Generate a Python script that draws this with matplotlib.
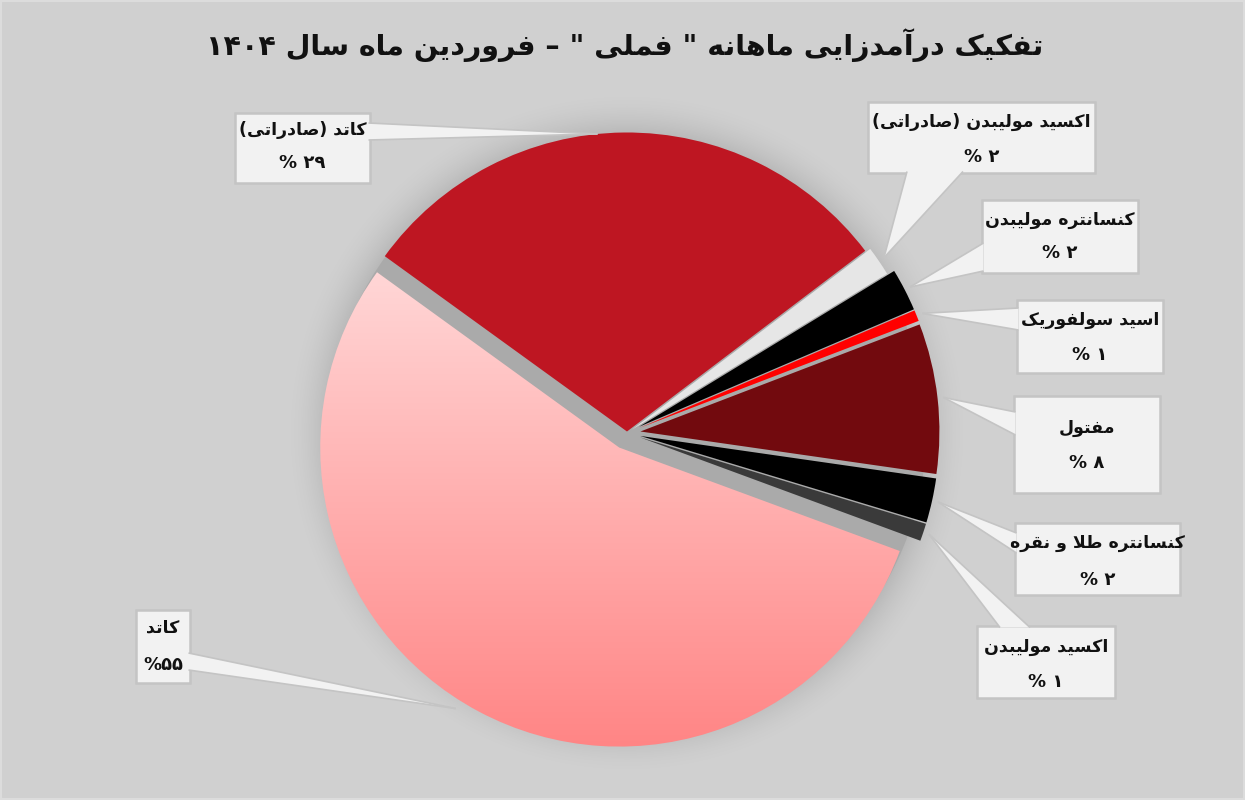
import re
import numpy as np
import matplotlib
matplotlib.use('Agg')
import matplotlib.pyplot as plt
from matplotlib.patches import Rectangle, Polygon, Circle
from matplotlib.colors import LinearSegmentedColormap, to_rgb

# ---------------- data ----------------
title = 'تفکیک درآمدزایی ماهانه " فملی " – فروردین ماه سال ۱۴۰۴'
names = ['کاتد (صادراتی)', 'اکسید مولیبدن (صادراتی)', 'کنسانتره مولیبدن',
         'اسید سولفوریک', 'مفتول', 'کنسانتره طلا و نقره', 'اکسید مولیبدن', 'کاتد']
values = [29.7, 1.6, 2.3, 0.6, 8.1, 2.4, 0.95, 54.35]
pct_labels = ['۲۹ %', '۲ %', '۲ %', '۱ %', '۸ %', '۲ %', '۱ %', '۵۵%']
colors = ['#BE1622', '#E6E6E6', '#000000', '#FF0000', '#720A0E', '#000000', '#3A3A3A', '#FFB0B0']

# ---------------- simple Persian shaping ----------------
FORMS = {
    '\u0627': ('\uFE8D', '\uFE8E', None, None),
    '\u0622': ('\uFE81', '\uFE82', None, None),
    '\u0628': ('\uFE8F', '\uFE90', '\uFE91', '\uFE92'),
    '\u067E': ('\uFB56', '\uFB57', '\uFB58', '\uFB59'),
    '\u062A': ('\uFE95', '\uFE96', '\uFE97', '\uFE98'),
    '\u062F': ('\uFEA9', '\uFEAA', None, None),
    '\u0631': ('\uFEAD', '\uFEAE', None, None),
    '\u0632': ('\uFEAF', '\uFEB0', None, None),
    '\u0633': ('\uFEB1', '\uFEB2', '\uFEB3', '\uFEB4'),
    '\u0635': ('\uFEB9', '\uFEBA', '\uFEBB', '\uFEBC'),
    '\u0637': ('\uFEC1', '\uFEC2', '\uFEC3', '\uFEC4'),
    '\u0641': ('\uFED1', '\uFED2', '\uFED3', '\uFED4'),
    '\u0642': ('\uFED5', '\uFED6', '\uFED7', '\uFED8'),
    '\u06A9': ('\uFB8E', '\uFB8F', '\uFB90', '\uFB91'),
    '\u0644': ('\uFEDD', '\uFEDE', '\uFEDF', '\uFEE0'),
    '\u0645': ('\uFEE1', '\uFEE2', '\uFEE3', '\uFEE4'),
    '\u0646': ('\uFEE5', '\uFEE6', '\uFEE7', '\uFEE8'),
    '\u0647': ('\uFEE9', '\uFEEA', '\uFEEB', '\uFEEC'),
    '\u0648': ('\uFEED', '\uFEEE', None, None),
    '\u06CC': ('\uFBFC', '\uFBFD', '\uFBFE', '\uFBFF'),
}


def _joins_next(c):
    return c in FORMS and FORMS[c][2] is not None


def shape(text):
    ch = list(text)
    n = len(ch)
    res = []
    i = 0
    while i < n:
        c = ch[i]
        if c not in FORMS:
            res.append(c)
            i += 1
            continue
        jp = i > 0 and _joins_next(ch[i - 1])
        if c == '\u0644' and i + 1 < n and ch[i + 1] in ('\u0627', '\u0622'):
            lig = ('\uFEFB', '\uFEFC') if ch[i + 1] == '\u0627' else ('\uFEF5', '\uFEF6')
            res.append(lig[1] if jp else lig[0])
            i += 2
            continue
        jn = _joins_next(c) and i + 1 < n and ch[i + 1] in FORMS
        iso, fin, ini, med = FORMS[c]
        res.append(med if (jp and jn) else fin if jp else ini if jn else iso)
        i += 1
    return ''.join(res)


def rtl(text):
    s = shape(text)
    toks = re.findall(r'[0-9\u06F0-\u06F9]+|.', s)
    toks.reverse()
    mirror = {'(': ')', ')': '('}
    return ''.join(mirror.get(t, t) for t in toks)


# ---------------- figure ----------------
W, H = 1245, 800
BG = '#D0D0D0'
fig = plt.figure(figsize=(12.45, 8), dpi=100, facecolor=BG)
ax = fig.add_axes([0, 0, 1, 1])
ax.set_facecolor(BG)

cx, cy, R = 627, H - 433, 299
# explode offsets in data (pixel) units
explode = [1.5, 6, 13.5, 13.5, 13.5, 13.5, 13.5, 16.5]

wedges, _ = ax.pie(values, colors=colors, startangle=144.1, counterclock=False,
                   radius=R, center=(cx, cy), explode=explode,
                   wedgeprops=dict(linewidth=0, zorder=3), frame=True)

ax.set_xlim(0, W)
ax.set_ylim(0, H)
ax.set_aspect('auto')
ax.axis('off')

# soft shadow around the pie
gx = np.linspace(cx - R - 70, cx + R + 70, 500)
gy = np.linspace(cy - R - 70, cy + R + 70, 500)
XX, YY = np.meshgrid(gx, gy)
D = np.hypot(XX - cx, YY - cy)
alpha = np.clip(1 - (D - R) / 42.0, 0, 1) ** 1.8 * 0.26
alpha[D < R] = 0.26
rgba = np.zeros(D.shape + (4,))
rgba[..., :3] = 0.45
rgba[..., 3] = alpha
ax.imshow(rgba, extent=[gx[0], gx[-1], gy[0], gy[-1]], origin='lower',
          zorder=1, interpolation='bilinear', aspect='auto')
ax.add_patch(Circle((cx, cy), R, facecolor='#AAAAAA', edgecolor='none', zorder=2))

# gradient fill for the big pink slice
pink = wedges[-1]
pink.set_facecolor('none')
top_c, bot_c = np.array(to_rgb('#FFD8D8')), np.array(to_rgb('#FF8585'))
cmap = LinearSegmentedColormap.from_list('pk', [bot_c, top_c])
grad = np.linspace(0, 1, 256).reshape(-1, 1)
im = ax.imshow(grad, cmap=cmap, extent=[cx - R - 40, cx + R + 40, H - 748, H - 262],
               origin='lower', aspect='auto', zorder=3, interpolation='bilinear')
im.set_clip_path(pink)

# ---------------- labels ----------------
boxes = [
    ((235, 113, 370, 183), 'right', (123, 140), (130, 163), None),
    ((868, 102, 1095, 173), 'bottom', (907, 963), (122, 157), None),
    ((982, 200, 1138, 273), 'left', (243, 271), (220, 253), None),
    ((1017, 300, 1163, 373), 'left', (308, 330), (320, 355), None),
    ((1014, 396, 1160, 493), 'left', (412, 435), (428, 463), None),
    ((1015, 523, 1180, 595), 'left', (533, 553), (543, 580), None),
    ((977, 626, 1115, 698), 'top', (1000, 1030), (647, 682), None),
    ((136, 610, 190, 683), 'right', (653, 670), (628, 665), 163),
]
apex_scale = [1.0, 1.02, 1.02, 1.02, 1.02, 1.02, 1.02, 1.03]
apex_shift = [5.0, 0, 0, 0, 0, 0, 0, -4.0]

BOXFC = '#F2F2F2'
BOXEC = '#C4C4C4'
for i, w in enumerate(wedges):
    (x0, y0, x1, y1), side, base, tys, tx = boxes[i]
    th = np.radians((w.theta1 + w.theta2) / 2 + apex_shift[i])
    wcx, wcy = w.center
    ax_x = wcx + w.r * apex_scale[i] * np.cos(th)
    ax_y = wcy + w.r * apex_scale[i] * np.sin(th)
    ax.add_patch(Rectangle((x0, H - y1), x1 - x0, y1 - y0, facecolor=BOXFC,
                           edgecolor=BOXEC, linewidth=1.8, zorder=5))
    if side == 'right':
        p1, p2 = (x1 - 1.5, H - base[0]), (x1 - 1.5, H - base[1])
    elif side == 'left':
        p1, p2 = (x0 + 1.5, H - base[0]), (x0 + 1.5, H - base[1])
    elif side == 'bottom':
        p1, p2 = (base[0], H - y1 + 1.5), (base[1], H - y1 + 1.5)
    else:
        p1, p2 = (base[0], H - y0 - 1.5), (base[1], H - y0 - 1.5)
    ax.add_patch(Polygon([p1, p2, (ax_x, ax_y)], closed=True, facecolor=BOXFC,
                         edgecolor='none', zorder=6))
    for p in (p1, p2):
        ax.plot([p[0], ax_x], [p[1], ax_y], color=BOXEC, lw=1.2, zorder=6.5,
                solid_capstyle='butt')
    xc = (x0 + x1) / 2 if tx is None else tx
    ax.text(xc, H - tys[0], rtl(names[i]), ha='center', va='center',
            fontsize=12.5, fontweight='bold', family='DejaVu Sans', color='#111111', zorder=7)
    ax.text(xc, H - tys[1], rtl(pct_labels[i]), ha='center', va='center',
            fontsize=13, fontweight='bold', family='DejaVu Sans', color='#111111', zorder=7)

# title
ax.text(625, H - 45, rtl(title), ha='center', va='center', fontsize=20.5,
        fontweight='bold', family='DejaVu Sans', color='#111111', zorder=7)

# thin outer border
ax.add_patch(Rectangle((1, 1), W - 2, H - 2, facecolor='none', edgecolor='#DCDCDC',
                       linewidth=1.5, zorder=8))

fig.savefig('out.png', dpi=100, facecolor=BG)
